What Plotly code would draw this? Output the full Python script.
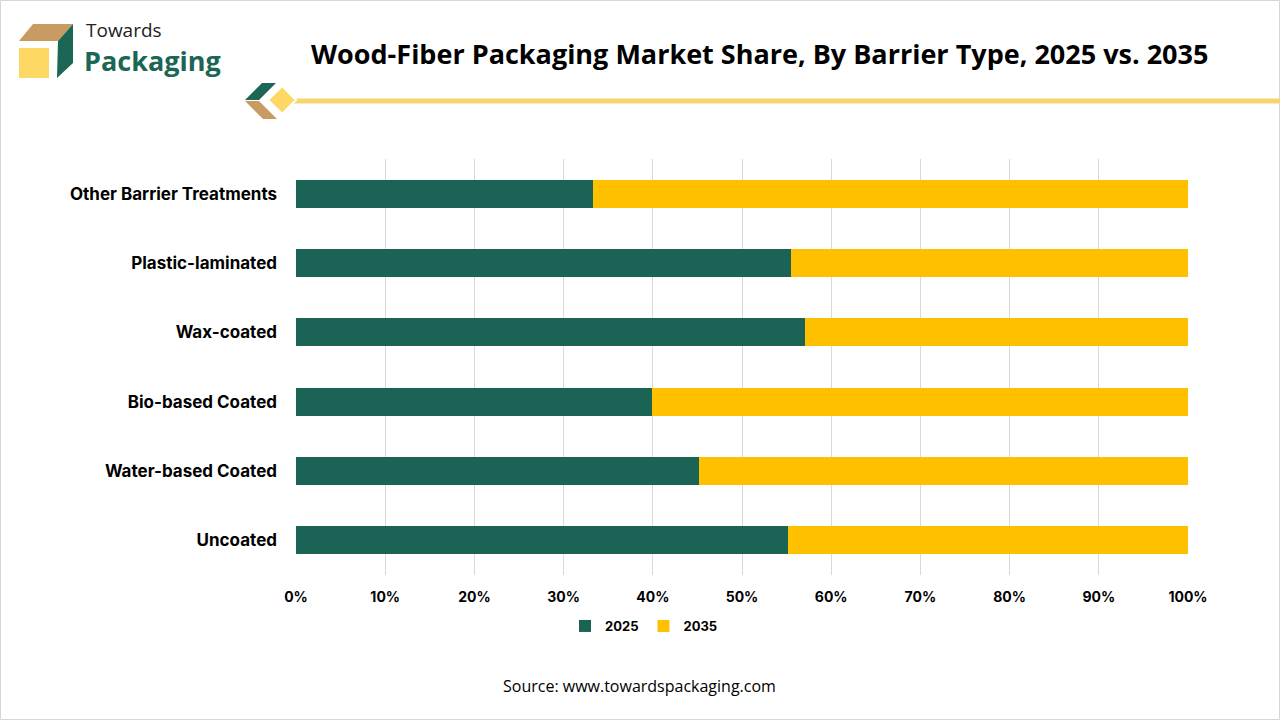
import plotly.graph_objects as go

# barrier types, bottom to top as drawn
categories = ["Uncoated", "Water-based Coated", "Bio-based Coated",
              "Wax-coated", "Plastic-laminated", "Other Barrier Treatments"]
share_2025 = [55.2, 45.2, 39.9, 57.1, 55.5, 33.3]
share_2035 = [44.8, 54.8, 60.1, 42.9, 44.5, 66.7]
tick_vals = [0, 10, 20, 30, 40, 50, 60, 70, 80, 90, 100]
tick_text = ["0%", "10%", "20%", "30%", "40%", "50%", "60%", "70%", "80%", "90%", "100%"]

GREEN = "#1A6355"
YELLOW = "#FFC000"

# plot area in pixels
L, R, T, B = 296, 1188, 159, 575
W, H = 1280, 720


def px(x):
    return (x - L) / (R - L)


def py(y):
    return (B - y) / (B - T)


def poly(pts):
    return "M " + " L ".join("{:.5f},{:.5f}".format(px(a), py(b)) for a, b in pts) + " Z"


fig = go.Figure()
fig.add_trace(go.Bar(y=categories, x=share_2025, orientation="h", name="2025",
                     marker=dict(color=GREEN, line=dict(width=0))))
fig.add_trace(go.Bar(y=categories, x=share_2035, orientation="h", name="2035",
                     marker=dict(color=YELLOW, line=dict(width=0))))

shapes = []
# outer border
shapes.append(dict(type="rect", xref="paper", yref="paper",
                   x0=px(0.5), x1=px(1279.5), y0=py(719.5), y1=py(0.5),
                   line=dict(color="#D6D6D6", width=1), layer="below"))
# logo cube
shapes.append(dict(type="path", xref="paper", yref="paper",
                   path=poly([(33, 24), (73, 24), (58, 41), (19, 41)]),
                   fillcolor="#C89B62", line=dict(width=0)))
shapes.append(dict(type="rect", xref="paper", yref="paper",
                   x0=px(19), x1=px(49), y0=py(78), y1=py(48),
                   fillcolor="#FDD865", line=dict(width=0)))
shapes.append(dict(type="path", xref="paper", yref="paper",
                   path=poly([(58, 41), (73, 24), (73, 63), (57, 78)]),
                   fillcolor="#1B6654", line=dict(width=0)))
# decorative line under title
shapes.append(dict(type="line", xref="paper", yref="paper",
                   x0=px(285), x1=px(1280), y0=py(101), y1=py(101),
                   line=dict(color="#F7D56A", width=5)))
shapes.append(dict(type="path", xref="paper", yref="paper",
                   path=poly([(245, 100), (262, 83), (276, 83), (259, 100)]),
                   fillcolor="#1B6654", line=dict(width=0)))
shapes.append(dict(type="path", xref="paper", yref="paper",
                   path=poly([(245, 101), (259, 101), (277, 119), (263, 119)]),
                   fillcolor="#C89B62", line=dict(width=0)))
shapes.append(dict(type="path", xref="paper", yref="paper",
                   path=poly([(282, 86), (296, 100), (282, 114), (268, 100)]),
                   fillcolor="#FDD865", line=dict(color="white", width=2)))

annotations = [
    dict(text="Towards", x=px(84), y=py(30), xref="paper", yref="paper",
         xanchor="left", yanchor="middle", showarrow=False,
         font=dict(family="Open Sans", size=19, color="#222222")),
    dict(text="<b>Packaging</b>", x=px(82), y=py(60), xref="paper", yref="paper",
         xanchor="left", yanchor="middle", showarrow=False,
         font=dict(family="Open Sans", size=27, color="#1B6654")),
    dict(text="<b>Wood-Fiber Packaging Market Share, By Barrier Type, 2025 vs. 2035</b>",
         x=px(759), y=py(53), xref="paper", yref="paper",
         xanchor="center", yanchor="middle", showarrow=False,
         font=dict(family="Open Sans", size=27, color="#000000")),
    dict(text="Source: www.towardspackaging.com", x=px(639), y=py(686),
         xref="paper", yref="paper", xanchor="center", yanchor="middle",
         showarrow=False, font=dict(family="Open Sans", size=16, color="#000000")),
]

fig.update_layout(
    width=W, height=H,
    barmode="stack", bargap=0.6,
    plot_bgcolor="white", paper_bgcolor="white",
    margin=dict(l=L, r=W - R, t=T, b=H - B),
    font=dict(family="Inter", color="#000000"),
    xaxis=dict(range=[0, 100], tickvals=tick_vals, ticktext=tick_text,
               showgrid=True, gridcolor="#D9D9D9", gridwidth=1,
               zeroline=False, showline=False, ticks="",
               tickfont=dict(family="Inter", size=14, weight="bold"),
               ticklabelstandoff=12, fixedrange=True),
    yaxis=dict(showgrid=False, zeroline=False, showline=False, ticks="",
               tickfont=dict(family="Inter", size=17, weight="bold"),
               ticklabelstandoff=18, fixedrange=True),
    legend=dict(orientation="h", x=px(644), y=py(626), xanchor="center",
                yanchor="middle", font=dict(family="Inter", size=13, weight="bold"),
                itemwidth=30, traceorder="normal"),
    shapes=shapes,
    annotations=annotations,
)

fig.write_html("out.html", config={"displayModeBar": False},
               post_script="document.body.style.margin='0px';")
